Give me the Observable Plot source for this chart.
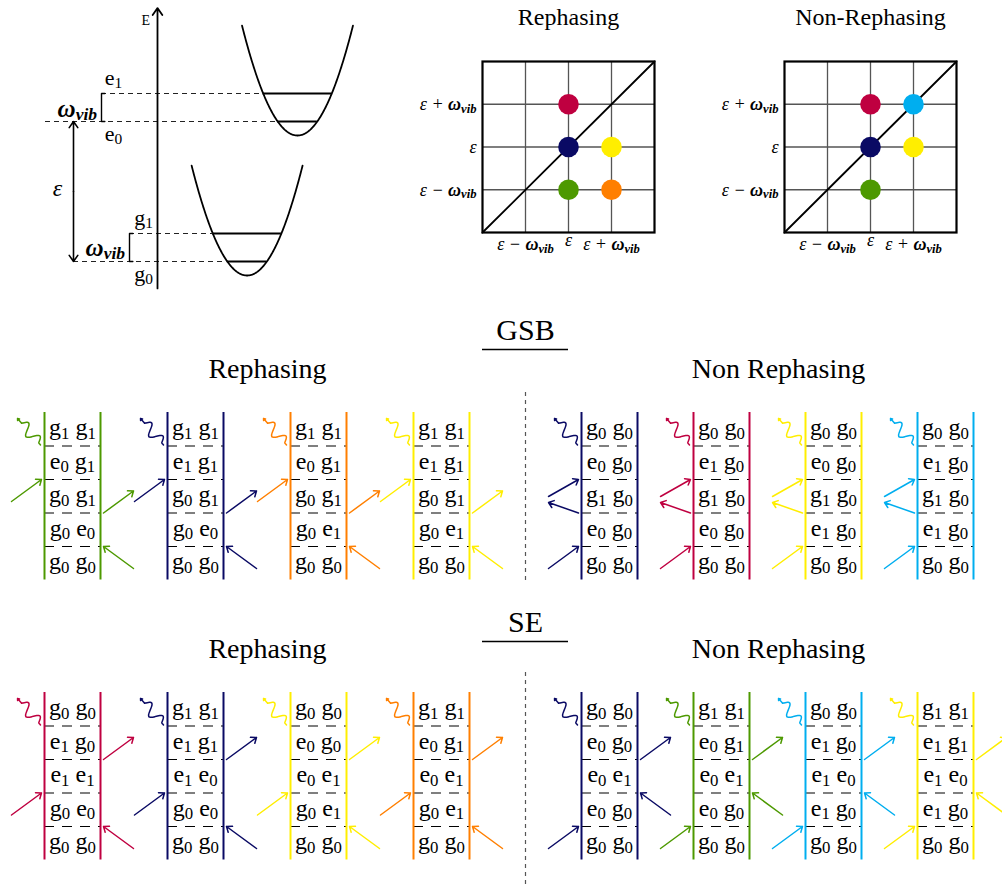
<!DOCTYPE html>
<html>
<head>
<meta charset="utf-8">
<script src="https://cdn.jsdelivr.net/npm/d3@7"></script>
<script src="https://cdn.jsdelivr.net/npm/@observablehq/plot@0.6"></script>
<style>
  body { margin: 0; background: #fff; }
  #fig { position: relative; width: 1002px; height: 887px; overflow: hidden; background: #fff; }
  #fig svg { position: absolute; background: transparent !important; max-width: none !important; }
</style>
</head>
<body>
<div id="fig"></div>
<script>
// ---------- palette ----------
const crimson = "#BF0040", navy = "#0A0A64", yellow = "#FFEE00",
      orange = "#FF7F00", green = "#4D9900", cyan = "#00AEEF";
const SERIF = "'Liberation Serif', 'DejaVu Serif', serif";

// ---------- energy level scheme (energies in units of ω_vib, relative to g0) ----------
const levelNames = ["g_0", "g_1", "e_0", "e_1"];
const levelEnergies = [0, 1, 5, 6];
const levelWell = [0, 0, 1, 1];
const levelQuantum = [0, 1, 0, 1];
const wellCenters = [3.2, 5.0];   // nuclear coordinate of each potential minimum
const wellMinima = [-0.5, 4.5];   // potential minimum (zero-point energy below level 0)

// ---------- 2D spectra ----------
const axisTicks = [-1, 0, 1];
const tickLabels = ["ε − ω_vib", "ε", "ε + ω_vib"];
const rephasingX = [0, 0, 1, 0, 1];
const rephasingY = [1, 0, 0, -1, -1];
const rephasingColors = [crimson, navy, yellow, green, orange];
const nonRephasingX = [0, 1, 0, 1, 0];
const nonRephasingY = [1, 1, 0, 0, -1];
const nonRephasingColors = [crimson, cyan, navy, yellow, green];

// ---------- double-sided Feynman diagrams (states listed bottom to top) ----------
const gsbRephasingColors = [green, navy, orange, yellow];
const gsbRephasingStates = [
  ["g_0 g_0", "g_0 e_0", "g_0 g_1", "e_0 g_1", "g_1 g_1"],
  ["g_0 g_0", "g_0 e_0", "g_0 g_1", "e_1 g_1", "g_1 g_1"],
  ["g_0 g_0", "g_0 e_1", "g_0 g_1", "e_0 g_1", "g_1 g_1"],
  ["g_0 g_0", "g_0 e_1", "g_0 g_1", "e_1 g_1", "g_1 g_1"]
];
const gsbRephasingPulses = ["bra-in", "bra-out", "ket-in"];

const gsbNonRephasingColors = [navy, crimson, yellow, cyan];
const gsbNonRephasingStates = [
  ["g_0 g_0", "e_0 g_0", "g_1 g_0", "e_0 g_0", "g_0 g_0"],
  ["g_0 g_0", "e_0 g_0", "g_1 g_0", "e_1 g_0", "g_0 g_0"],
  ["g_0 g_0", "e_1 g_0", "g_1 g_0", "e_0 g_0", "g_0 g_0"],
  ["g_0 g_0", "e_1 g_0", "g_1 g_0", "e_1 g_0", "g_0 g_0"]
];
const gsbNonRephasingPulses = ["ket-in", "ket-out", "ket-in"];

const seRephasingColors = [crimson, navy, yellow, orange];
const seRephasingStates = [
  ["g_0 g_0", "g_0 e_0", "e_1 e_1", "e_1 g_0", "g_0 g_0"],
  ["g_0 g_0", "g_0 e_0", "e_1 e_0", "e_1 g_1", "g_1 g_1"],
  ["g_0 g_0", "g_0 e_1", "e_0 e_1", "e_0 g_0", "g_0 g_0"],
  ["g_0 g_0", "g_0 e_1", "e_0 e_1", "e_0 g_1", "g_1 g_1"]
];
const seRephasingPulses = ["bra-in", "ket-in", "bra-out"];

const seNonRephasingColors = [navy, green, cyan, yellow];
const seNonRephasingStates = [
  ["g_0 g_0", "e_0 g_0", "e_0 e_1", "e_0 g_0", "g_0 g_0"],
  ["g_0 g_0", "e_0 g_0", "e_0 e_1", "e_0 g_1", "g_1 g_1"],
  ["g_0 g_0", "e_1 g_0", "e_1 e_0", "e_1 g_0", "g_0 g_0"],
  ["g_0 g_0", "e_1 g_0", "e_1 e_0", "e_1 g_1", "g_1 g_1"]
];
const seNonRephasingPulses = ["ket-in", "bra-in", "bra-out"];

const sectionTitles = ["GSB", "SE"];
const groupTitles = ["Rephasing", "Non Rephasing"];

// ---------- helpers ----------
const fig = document.getElementById("fig");
const SVGNS = "http://www.w3.org/2000/svg";

// Turn "g_0", "ω_vib" into real subscripts; ω and its subscript are set bold italic.
function richText(root) {
  root.querySelectorAll("text").forEach(t => {
    if (t.querySelector("tspan")) return;
    const s = t.textContent;
    if (!/[_ω]/.test(s)) return;
    const tokens = [];
    let buf = "";
    for (let i = 0; i < s.length; i++) {
      const ch = s[i];
      if (ch === "_") {
        let j = i + 1;
        while (j < s.length && /[A-Za-z0-9]/.test(s[j])) j++;
        if (buf) tokens.push({text: buf});
        buf = "";
        const prev = tokens[tokens.length - 1];
        tokens.push({text: s.slice(i + 1, j), sub: true, bold: !!(prev && prev.bold)});
        i = j - 1;
      } else if (ch === "ω") {
        if (buf) tokens.push({text: buf});
        buf = "";
        tokens.push({text: ch, bold: true});
      } else buf += ch;
    }
    if (buf) tokens.push({text: buf});
    t.textContent = "";
    t.style.whiteSpace = "pre";
    let lowered = false;
    for (const tok of tokens) {
      const sp = document.createElementNS(SVGNS, "tspan");
      sp.textContent = tok.text;
      if (tok.bold) { sp.setAttribute("font-weight", "bold"); sp.setAttribute("font-style", "italic"); }
      if (tok.sub) {
        sp.style.fontSize = "70%";
        if (!lowered) { sp.setAttribute("dy", "0.2em"); lowered = true; }
      } else if (lowered) {
        sp.setAttribute("dy", "-0.14em");
        lowered = false;
      }
      t.appendChild(sp);
    }
  });
}

function place(svg, left, top) {
  svg.style.left = left + "px";
  svg.style.top = top + "px";
  fig.appendChild(svg);
  richText(svg);
}

// ---------- energy diagram ----------
{
  const W = 400, H = 300, px = 28;          // 28 px per ω_vib, on both axes
  const ox = 157, oy = 261;                  // pixel position of Q = 0, E = 0
  const levels = levelNames.map((name, i) => {
    const w = levelWell[i];
    const half = Math.sqrt(levelQuantum[i] + 0.5);
    return {name, E: levelEnergies[i], left: wellCenters[w] - half, right: wellCenters[w] + half};
  });
  const dashFrom = [-3, -1, -4, -2];        // where each guide line starts, per level
  const wells = [];
  wellCenters.forEach((c, w) => {
    for (let q = -1.98; q <= 1.9801; q += 0.02) wells.push({w, Q: c + q, E: wellMinima[w] + q * q});
  });
  const svg = Plot.plot({
    width: W, height: H, margin: 0,
    x: {domain: [-ox / px, (W - ox) / px], range: [0, W], axis: null},
    y: {domain: [(oy - H) / px, oy / px], range: [H, 0], axis: null},
    marks: [
      Plot.line(wells, {x: "Q", y: "E", z: "w", stroke: "black", strokeWidth: 1.8}),
      Plot.ruleY(levels, {y: "E", x1: "left", x2: "right", stroke: "black", strokeWidth: 1.8}),
      Plot.ruleY(levels, {y: "E", x1: (d, i) => dashFrom[i], x2: "left", stroke: "#222",
                          strokeWidth: 1, strokeDasharray: "5,4"}),
      // energy axis
      Plot.arrow([0], {x1: 0, x2: 0, y1: -0.96, y2: 9.05, stroke: "black", strokeWidth: 1.8,
                       headLength: 7, headAngle: 70}),
      // ε gap
      Plot.arrow([0, 5], {x1: -3, x2: -3, y1: 2.5, y2: d => d, stroke: "black", strokeWidth: 1.6,
                          headLength: 7, headAngle: 70}),
      // ω_vib brackets
      Plot.line([0, 1].flatMap(k => [
        {z: k, Q: k ? -0.88 : -1.88, E: levelEnergies[k ? 0 : 2]},
        {z: k, Q: k ? -1 : -2, E: levelEnergies[k ? 0 : 2]},
        {z: k, Q: k ? -1 : -2, E: levelEnergies[k ? 1 : 3]},
        {z: k, Q: k ? -0.88 : -1.88, E: levelEnergies[k ? 1 : 3]}
      ]), {x: "Q", y: "E", z: "z", stroke: "black", strokeWidth: 1.4}),
      Plot.text(["E"], {x: -0.42, y: 8.62, fontSize: 14, fontFamily: SERIF}),
      Plot.text(levels, {
        x: (d, i) => i < 2 ? -0.5 : -1.57,
        y: (d, i) => d.E + (levelQuantum[i] ? 0.55 : -0.45),
        text: "name", fontSize: 22, fontFamily: SERIF
      }),
      Plot.text(["ω_vib", "ω_vib"], {
        x: (d, i) => i ? -2.16 : -1.16, y: (d, i) => i ? 5.45 : 0.5,
        textAnchor: "end", fontSize: 25, fontFamily: SERIF
      }),
      Plot.text(["ε"], {x: -3.57, y: 2.6, fontSize: 24, fontStyle: "italic", fontFamily: SERIF})
    ]
  });
  place(svg, 0, 0);
}

// ---------- 2D spectra ----------
function spectrum(title, xs, ys, colors) {
  const peaks = xs.map((x, i) => ({x, y: ys[i], color: colors[i]}));
  const side = tickLabels.map((t, i) => ({t, v: axisTicks[i]}));
  return Plot.plot({
    width: 300, height: 260,
    marginLeft: 82, marginRight: 46, marginTop: 61, marginBottom: 28,
    x: {domain: [-2, 2], axis: null},
    y: {domain: [-2, 2], axis: null},
    color: {type: "identity"},
    marks: [
      Plot.ruleX(axisTicks, {stroke: "#555", strokeWidth: 1.3}),
      Plot.ruleY(axisTicks, {stroke: "#555", strokeWidth: 1.3}),
      Plot.line([[-2, -2], [2, 2]], {stroke: "black", strokeWidth: 1.8}),
      Plot.dot(peaks, {x: "x", y: "y", r: 10.3, fill: "color", stroke: null}),
      Plot.frame({stroke: "black", strokeWidth: 2.2}),
      Plot.text(side, {y: "v", text: "t", frameAnchor: "left", textAnchor: "end", lineAnchor: "middle",
                       dx: -6, fontSize: 18, fontStyle: "italic", fontFamily: SERIF}),
      Plot.text(side.filter(d => d.v !== 0), {x: "v", text: "t", frameAnchor: "bottom", lineAnchor: "middle",
                       dy: 12, fontSize: 18, fontStyle: "italic", fontFamily: SERIF}),
      Plot.text(side.filter(d => d.v === 0), {x: "v", text: "t", frameAnchor: "bottom", lineAnchor: "middle",
                       dy: 8, fontSize: 18, fontStyle: "italic", fontFamily: SERIF}),
      Plot.text([title], {frameAnchor: "top", lineAnchor: "middle", dy: -44, fontSize: 24, fontFamily: SERIF})
    ]
  });
}
place(spectrum("Rephasing", rephasingX, rephasingY, rephasingColors), 400, 0);
place(spectrum("Non-Rephasing", nonRephasingX, nonRephasingY, nonRephasingColors), 702, 0);

// ---------- Feynman diagrams ----------
{
  const W = 1002, top0 = 300, H = 887 - top0;
  const rowH = 33.5, railW = 56;
  const sections = [
    {titleY: 330, ruleY: 349, subtitleY: 369, top: 412, divider: [392, 581]},
    {titleY: 622, ruleY: 641, subtitleY: 649, top: 692, divider: [672, 887]}
  ];
  const groups = [{cx: 267, x0: 44, dx: 123}, {cx: 778, x0: 581, dx: 112}];
  const sets = [
    [[gsbRephasingColors, gsbRephasingStates, gsbRephasingPulses],
     [gsbNonRephasingColors, gsbNonRephasingStates, gsbNonRephasingPulses]],
    [[seRephasingColors, seRephasingStates, seRephasingPulses],
     [seNonRephasingColors, seNonRephasingStates, seNonRephasingPulses]]
  ];

  function pulse(kind, prev, xL, xR, y) {
    if (kind === "ket-in") {
      const rise = prev === "ket-out" ? 17 : 22;
      return {x1: xL - 33, y1: y + rise, x2: xL - 3, y2: y};
    }
    if (kind === "ket-out") return {x1: xL - 3, y1: y, x2: xL - 33, y2: y - 10.5};
    if (kind === "bra-in") return {x1: xR + 33, y1: y + 22, x2: xR + 3, y2: y};
    return {x1: xR + 3, y1: y, x2: xR + 33, y2: y - 22};
  }

  const rails = [], seps = [], labels = [], arrows = [], waves = [], heads = [];
  const titles = [], subtitles = [], underlines = [], dividers = [];
  sections.forEach((sec, si) => {
    titles.push({text: sectionTitles[si], x: 525, y: sec.titleY});
    underlines.push({y: sec.ruleY, x1: 482, x2: 568});
    dividers.push({x: 525, y1: sec.divider[0], y2: sec.divider[1]});
    groups.forEach((grp, gi) => {
      subtitles.push({text: groupTitles[gi], x: grp.cx, y: sec.subtitleY});
      const [colors, states, pulses] = sets[si][gi];
      colors.forEach((color, di) => {
        const xL = grp.x0 + di * grp.dx, xR = xL + railW;
        const yTop = sec.top, yBot = sec.top + 5 * rowH;
        const b = k => yBot - k * rowH;
        rails.push({x: xL, y1: yTop, y2: yBot, color}, {x: xR, y1: yTop, y2: yBot, color});
        for (let k = 1; k <= 4; k++) seps.push({y: b(k), x1: xL, x2: xR});
        states[di].forEach((s, r) => labels.push({x: (xL + xR) / 2, y: yBot - (r + 0.5) * rowH - 1.5, text: s}));
        pulses.forEach((kind, j) => arrows.push({...pulse(kind, pulses[j - 1], xL, xR, b(j + 1)), color}));
        // emitted signal: wavy line leaving the ket side
        const sx = xL - 4, sy = b(4) - 1, ex = xL - 27, ey = yTop + 6;
        const dx = ex - sx, dy = ey - sy, len = Math.hypot(dx, dy);
        const nx = -dy / len, ny = dx / len;
        const id = `${si}-${gi}-${di}`;
        const tEnd = 0.82;
        for (let n = 0; n <= 48; n++) {
          const t = n / 48 * tEnd;
          const w = t < 0.08 ? 0 : 5.5 * Math.sin(2 * Math.PI * 1.5 * (t - 0.08) / (tEnd - 0.08));
          waves.push({id, color, x: sx + t * dx + nx * w, y: sy + t * dy + ny * w});
        }
        heads.push({x1: sx + tEnd * dx, y1: sy + tEnd * dy, x2: ex, y2: ey, color});
      });
    });
  });

  const svg = Plot.plot({
    width: W, height: H, margin: 0,
    x: {domain: [0, W], range: [0, W], axis: null},
    y: {domain: [top0, 887], range: [0, H], axis: null},
    color: {type: "identity"},
    marks: [
      Plot.ruleX(dividers, {x: "x", y1: "y1", y2: "y2", stroke: "#555", strokeWidth: 1.2, strokeDasharray: "4,4"}),
      Plot.ruleY(underlines, {y: "y", x1: "x1", x2: "x2", stroke: "black", strokeWidth: 1.3}),
      Plot.text(titles, {x: "x", y: "y", text: "text", fontSize: 30, fontFamily: SERIF}),
      Plot.text(subtitles, {x: "x", y: "y", text: "text", fontSize: 28, fontFamily: SERIF}),
      Plot.ruleY(seps, {y: "y", x1: "x1", x2: "x2", stroke: "black", strokeWidth: 1.2, strokeDasharray: "10,8"}),
      Plot.ruleX(rails, {x: "x", y1: "y1", y2: "y2", stroke: "color", strokeWidth: 2}),
      Plot.text(labels, {x: "x", y: "y", text: "text", fontSize: 24, fontFamily: SERIF}),
      Plot.arrow(arrows, {x1: "x1", y1: "y1", x2: "x2", y2: "y2", stroke: "color", strokeWidth: 1.5,
                          headLength: 6, headAngle: 75}),
      Plot.line(waves, {x: "x", y: "y", z: "id", stroke: "color", strokeWidth: 1.5, curve: "catmull-rom"}),
      Plot.arrow(heads, {x1: "x1", y1: "y1", x2: "x2", y2: "y2", stroke: "color", strokeWidth: 1.5,
                         headLength: 6, headAngle: 75})
    ]
  });
  place(svg, 0, top0);
}
</script>
</body>
</html>
